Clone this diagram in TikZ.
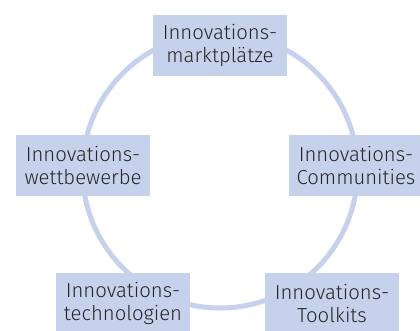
\documentclass[tikz,border=0pt]{standalone}
\usepackage{fontspec}
\setmainfont{Fira Sans}[UprightFont=* Light]
\definecolor{boxblue}{HTML}{C6D1EC}
\definecolor{txt}{HTML}{262626}
\begin{document}
\begin{tikzpicture}[x=1pt,y=-1pt,
  lbl/.style={fill=boxblue,text=txt,minimum width=134pt,minimum height=61pt,
    inner sep=0pt,align=center,font=\fontsize{20.3}{23}\selectfont}]
\useasboundingbox (0,0) rectangle (420,330);
\begin{scope}
\clip (0,0) rectangle (420,330);
\draw[boxblue,line width=5pt] (220,170.5) circle[radius=137.5];
\node[lbl] (mk) at (220,45.5) {Innovations-\\marktplätze};
\node[lbl] (wb) at (83,165.5) {Innovations-\\wettbewerbe};
\node[lbl] (cm) at (356,165.5) {Innovations-\\Communities};
\node[lbl] (tg) at (123,303.5) {Innovations-\\technologien};
\node[lbl] (tk) at (332,303.5) {Innovations-\\Toolkits};
\end{scope}
\end{tikzpicture}
\end{document}
